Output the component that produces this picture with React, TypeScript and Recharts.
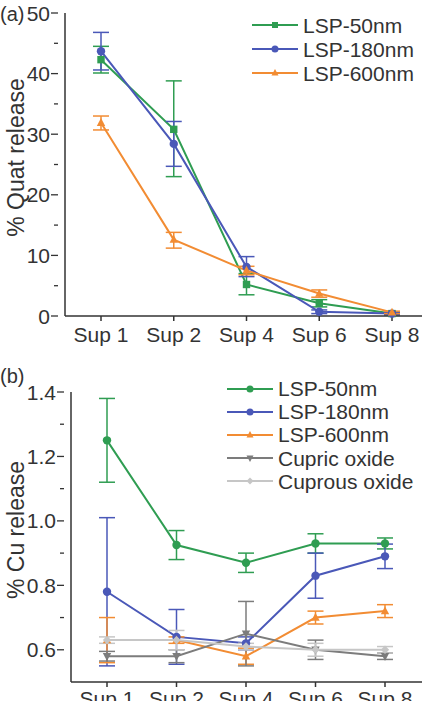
import React from "react";
import { LineChart, Line, XAxis, YAxis, ErrorBar, Legend } from "recharts";

if (typeof document !== "undefined") document.body.style.margin = "0";

const FONT = '"Liberation Sans", Arial, sans-serif';
const INK = "#333333";
const FS = 21;

const supLabels = ["Sup 1", "Sup 2", "Sup 4", "Sup 6", "Sup 8"];

// (a) % Quat release, err = [down, up]
const quat50 = [42.3, 30.8, 5.2, 2.1, 0.4];
const quat50Err = [[2.2, 2.2], [7.8, 8.0], [1.7, 1.8], [0.6, 0.6], [0.2, 0.2]];
const quat180 = [43.7, 28.4, 8.1, 0.7, 0.4];
const quat180Err = [[3.1, 3.1], [3.7, 3.7], [1.6, 1.7], [0.3, 0.3], [0.2, 0.2]];
const quat600 = [31.9, 12.6, 7.5, 3.7, 0.6];
const quat600Err = [[1.2, 1.1], [1.4, 1.2], [0.7, 0.7], [0.6, 0.6], [0.2, 0.2]];
const quatTicks = [0, 5, 10, 15, 20, 25, 30, 35, 40, 45, 50];

// (b) % Cu release
const cu50 = [1.25, 0.925, 0.87, 0.93, 0.93];
const cu50Err = [[0.13, 0.13], [0.045, 0.045], [0.03, 0.03], [0.03, 0.03], [0.017, 0.017]];
const cu180 = [0.78, 0.64, 0.62, 0.83, 0.89];
const cu180Err = [[0.23, 0.23], [0.085, 0.085], [0.02, 0.02], [0.07, 0.07], [0.038, 0.038]];
const cu600 = [0.63, 0.63, 0.58, 0.7, 0.72];
const cu600Err = [[0.07, 0.07], [0.01, 0.01], [0.025, 0.025], [0.02, 0.02], [0.02, 0.02]];
const cupric = [0.58, 0.58, 0.65, 0.6, 0.58];
const cupricErr = [[0.015, 0.015], [0.02, 0.02], [0.1, 0.1], [0.03, 0.03], [0.01, 0.01]];
const cuprous = [0.63, 0.63, 0.61, 0.6, 0.6];
const cuprousErr = [[0.01, 0.01], [0.03, 0.03], [0.01, 0.01], [0.02, 0.02], [0.01, 0.01]];
const cuTicks = [0.6, 0.7, 0.8, 0.9, 1.0, 1.1, 1.2, 1.3, 1.4];

const GREEN = "#2f9d52";
const BLUE = "#4a58b8";
const ORANGE = "#f28c33";
const DGRAY = "#7c7c7c";
const LGRAY = "#c6c6c6";

type Shape = "square" | "circle" | "tri" | "triDown" | "diamond";
type Series = { key: string; name: string; color: string; shape: Shape };

const seriesA: Series[] = [
  { key: "s50", name: "LSP-50nm", color: GREEN, shape: "square" },
  { key: "s180", name: "LSP-180nm", color: BLUE, shape: "circle" },
  { key: "s600", name: "LSP-600nm", color: ORANGE, shape: "tri" },
];
const seriesB: Series[] = [
  { key: "s50", name: "LSP-50nm", color: GREEN, shape: "circle" },
  { key: "s180", name: "LSP-180nm", color: BLUE, shape: "circle" },
  { key: "s600", name: "LSP-600nm", color: ORANGE, shape: "tri" },
  { key: "cupric", name: "Cupric oxide", color: DGRAY, shape: "triDown" },
  { key: "cuprous", name: "Cuprous oxide", color: LGRAY, shape: "diamond" },
];

const dataA = supLabels.map((sup, i) => ({
  sup,
  s50: quat50[i], s50_err: quat50Err[i],
  s180: quat180[i], s180_err: quat180Err[i],
  s600: quat600[i], s600_err: quat600Err[i],
}));

const dataB = supLabels.map((sup, i) => ({
  sup,
  s50: cu50[i], s50_err: cu50Err[i],
  s180: cu180[i], s180_err: cu180Err[i],
  s600: cu600[i], s600_err: cu600Err[i],
  cupric: cupric[i], cupric_err: cupricErr[i],
  cuprous: cuprous[i], cuprous_err: cuprousErr[i],
}));

function Marker({ cx, cy, shape, color, r = 4.2 }: { cx: number; cy: number; shape: Shape; color: string; r?: number }) {
  if (cx == null || cy == null) return null;
  switch (shape) {
    case "square":
      return <rect x={cx - r + 0.5} y={cy - r + 0.5} width={2 * r - 1} height={2 * r - 1} fill={color} />;
    case "tri":
      return <polygon points={`${cx},${cy - r - 0.5} ${cx - r},${cy + r - 1} ${cx + r},${cy + r - 1}`} fill={color} />;
    case "triDown":
      return <polygon points={`${cx},${cy + r + 0.5} ${cx - r},${cy - r + 1} ${cx + r},${cy - r + 1}`} fill={color} />;
    case "diamond":
      return <polygon points={`${cx},${cy - r} ${cx + r},${cy} ${cx},${cy + r} ${cx - r},${cy}`} fill={color} />;
    default:
      return <circle cx={cx} cy={cy} r={r} fill={color} />;
  }
}

function YTick(props: any) {
  const { x, y, payload, major, fmt } = props;
  const isMajor = major(payload.value);
  return (
    <g>
      <line x1={x + 1} x2={x + 1 - (isMajor ? 7 : 4)} y1={y} y2={y} stroke={INK} strokeWidth={1.3} />
      {isMajor ? (
        <text x={x - 7} y={y} dy="0.36em" textAnchor="end" fontSize={FS} fill={INK} fontFamily={FONT}>
          {fmt(payload.value)}
        </text>
      ) : null}
    </g>
  );
}

function LegendBox({ items, rowH }: { items: Series[]; rowH: number }) {
  return (
    <div style={{ fontFamily: FONT, fontSize: FS, color: INK, lineHeight: 1 }}>
      {items.map((s) => (
        <div key={s.key} style={{ display: "flex", alignItems: "center", height: rowH }}>
          <svg width={46} height={14} style={{ display: "block" }}>
            <line x1={0} x2={46} y1={7} y2={7} stroke={s.color} strokeWidth={2} />
            <Marker cx={23} cy={7} shape={s.shape} color={s.color} r={3.5} />
          </svg>
          <span style={{ marginLeft: 5, whiteSpace: "nowrap" }}>{s.name}</span>
        </div>
      ))}
    </div>
  );
}

function YLabel({ viewBox, text, dy }: any) {
  const cy = viewBox.y + viewBox.height / 2 + dy;
  return (
    <text x={16} y={cy} transform={`rotate(-90 16 ${cy})`} textAnchor="middle" dy="0.36em" fontSize={23} fill={INK} fontFamily={FONT}>
      {text}
    </text>
  );
}

function renderLines(series: Series[]) {
  return series.map((s) => (
    <Line
      key={s.key}
      dataKey={s.key}
      name={s.name}
      stroke={s.color}
      strokeWidth={2}
      isAnimationActive={false}
      dot={(p: any) => <Marker key={`${s.key}-${p.index}`} cx={p.cx} cy={p.cy} shape={s.shape} color={s.color} />}
      activeDot={false}
    >
      <ErrorBar dataKey={s.key + "_err"} width={8} stroke={s.color} strokeWidth={1.5} direction="y" />
    </Line>
  ));
}

function PanelA() {
  return (
    <div style={{ position: "relative", width: 422, height: 350 }}>
      <div style={{ position: "absolute", left: 0, top: 3, fontFamily: FONT, fontSize: 20, color: INK }}>(a)</div>
      <LineChart width={422} height={350} data={dataA} margin={{ top: 13, right: 0, bottom: 0, left: 0 }}>
        <XAxis
          dataKey="sup"
          padding={{ left: 36, right: 30 }}
          stroke={INK}
          strokeWidth={1.5}
          tickSize={5}
          tickMargin={6}
          height={34}
          tick={{ fontSize: FS, fill: INK, fontFamily: FONT }}
        />
        <YAxis
          width={65}
          domain={[0, 50]}
          ticks={quatTicks}
          interval={0}
          stroke={INK}
          strokeWidth={1.5}
          tickLine={false}
          tick={<YTick major={(v: number) => v % 10 === 0} fmt={(v: number) => String(v)} />}
          label={<YLabel text="% Quat release" dy={-7} />}
        />
        <Legend
          layout="horizontal"
          verticalAlign="middle"
          align="center"
          wrapperStyle={{ top: 13, left: 252, width: "auto" }}
          content={() => <LegendBox items={seriesA} rowH={24} />}
        />
        {renderLines(seriesA)}
      </LineChart>
    </div>
  );
}

function PanelB() {
  return (
    <div style={{ position: "relative", width: 422, height: 351 }}>
      <div style={{ position: "absolute", left: 0, top: 15, fontFamily: FONT, fontSize: 20, color: INK }}>(b)</div>
      <LineChart width={422} height={351} data={dataB} margin={{ top: 42, right: 0, bottom: 0, left: 0 }}>
        <XAxis
          dataKey="sup"
          padding={{ left: 36, right: 37 }}
          stroke={INK}
          strokeWidth={1.5}
          tickSize={5}
          tickMargin={4}
          height={19}
          tick={{ fontSize: FS, fill: INK, fontFamily: FONT }}
        />
        <YAxis
          width={71}
          domain={[0.5, 1.4]}
          ticks={cuTicks}
          interval={0}
          stroke={INK}
          strokeWidth={1.5}
          tickLine={false}
          tick={<YTick major={(v: number) => Math.round(v * 10) % 2 === 0} fmt={(v: number) => v.toFixed(1)} />}
          label={<YLabel text="% Cu release" dy={-7} />}
        />
        <Legend
          layout="horizontal"
          verticalAlign="middle"
          align="center"
          wrapperStyle={{ top: 27, left: 227, width: "auto" }}
          content={() => <LegendBox items={seriesB} rowH={23.2} />}
        />
        {renderLines(seriesB)}
      </LineChart>
    </div>
  );
}

export default function App() {
  return (
    <div style={{ width: 422, height: 701, background: "#fff", overflow: "hidden" }}>
      <PanelA />
      <PanelB />
    </div>
  );
}
